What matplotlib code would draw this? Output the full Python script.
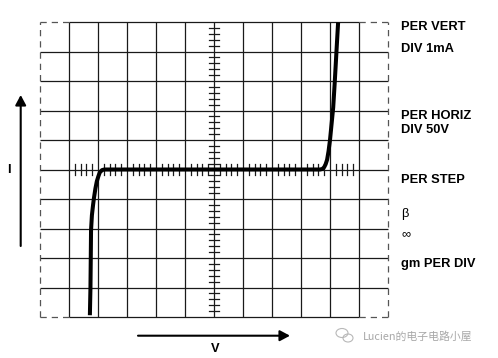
import numpy as np
import matplotlib
matplotlib.use("Agg")
import matplotlib.pyplot as plt
from matplotlib.patches import Ellipse

# ---- data (screen divisions; center = origin) ----
curve_x = [-4.28, -4.26, -4.25, -4.24, -4.21, -4.17, -4.14, -4.09, -4.04, -3.99, -3.94, -3.86, -3.78,
           0.0, 3.66, 3.74, 3.80, 3.85, 3.90, 3.95, 4.00, 4.06, 4.11, 4.16, 4.20, 4.24, 4.28]
curve_y = [-4.94, -4.00, -3.07, -2.06, -1.55, -1.20, -0.97, -0.65, -0.40, -0.24, -0.10, -0.02, 0.0,
           0.0, 0.0, 0.02, 0.08, 0.18, 0.33, 0.62, 1.00, 1.60, 2.10, 2.90, 3.60, 4.30, 4.99]

right_labels = ["PER VERT", "DIV 1mA", "PER HORIZ", "DIV 50V", "PER STEP", "β", "∞", "gm PER DIV"]
right_label_y = [26.5, 48.5, 116, 130, 180, 214, 234, 264]   # pixel rows from top
right_label_bold = [True, True, True, True, True, False, False, True]

W, H = 498, 358
fig = plt.figure(figsize=(W / 100, H / 100), dpi=100)
fig.patch.set_facecolor("white")

ax = fig.add_axes([40 / W, (H - 317) / H, 348 / W, 295 / H])
ax.set_xlim(-6, 6)
ax.set_ylim(-5, 5)
ax.axis("off")

gc = "#1a1a1a"
glw = 0.9
# vertical grid lines
for xv in range(-5, 6):
    ax.plot([xv, xv], [-5, 5], color=gc, lw=glw, solid_capstyle="butt", clip_on=False)
# horizontal grid lines
for yv in range(-4, 5):
    ax.plot([-6, 6], [yv, yv], color=gc, lw=glw, solid_capstyle="butt", clip_on=False)
# top/bottom solid middle
for yv in (-5, 5):
    ax.plot([-5, 5], [yv, yv], color=gc, lw=glw, solid_capstyle="butt", clip_on=False)
    for seg in ((-6, -5), (5, 6)):
        ax.plot(seg, [yv, yv], color="#555", lw=glw, ls=(0, (5, 4)), clip_on=False)
# dashed left/right borders
for xv in (-6, 6):
    ax.plot([xv, xv], [-5, 5], color="#555", lw=glw, ls=(0, (5, 4)), clip_on=False)

# minor ticks on center lines
minor = [v for v in np.arange(-5, 5.001, 0.2) if abs(v - round(v)) > 1e-6]
th = 0.17
for m in minor:
    ax.plot([m, m], [-th, th], color=gc, lw=glw, clip_on=False)
    ax.plot([-th, th], [m, m], color=gc, lw=glw, clip_on=False)

# characteristic curve
ax.plot(curve_x, curve_y, color="black", lw=2.9, solid_capstyle="butt",
        solid_joinstyle="round", clip_on=False, zorder=5)

# labels on right
for t, yp, b in zip(right_labels, right_label_y, right_label_bold):
    fig.text(401 / W, 1 - yp / H, t, ha="left", va="center", fontsize=9.3,
             fontweight="bold" if b else "normal",
             family=["Liberation Sans", "DejaVu Sans"])

# axis arrows
arrow_kw = dict(arrowstyle="-|>,head_length=0.6,head_width=0.32", mutation_scale=10,
                lw=1.5, color="black", shrinkA=0, shrinkB=0)
ax.annotate("", xy=(20.7 / W, 1 - 95 / H), xytext=(20.7 / W, 1 - 246 / H),
            xycoords="figure fraction", textcoords="figure fraction", arrowprops=arrow_kw)
ax.annotate("", xy=(290 / W, 1 - 335.7 / H), xytext=(138 / W, 1 - 335.7 / H),
            xycoords="figure fraction", textcoords="figure fraction", arrowprops=arrow_kw)
fig.text(9 / W, 1 - 170 / H, "I", ha="center", va="center", fontsize=9.3, fontweight="bold",
         family="Liberation Sans")
fig.text(215 / W, 1 - 349 / H, "V", ha="center", va="center", fontsize=9.3, fontweight="bold",
         family="Liberation Sans")

# watermark
fig.text(363 / W, 1 - 336 / H, "Lucien的电子电路小屋", ha="left", va="center", fontsize=7.8,
         color="#a8a8a8", family=["Noto Sans CJK SC", "DejaVu Sans"])
e1 = Ellipse((342 / W, 1 - 333 / H), 12 / W, 9 / H, transform=fig.transFigure,
             fill=False, ec="#b8b8b8", lw=0.8)
e2 = Ellipse((348 / W, 1 - 338 / H), 10 / W, 8 / H, transform=fig.transFigure,
             fill=False, ec="#b8b8b8", lw=0.8)
fig.add_artist(e1)
fig.add_artist(e2)

fig.savefig("out.png", dpi=100, facecolor="white")
